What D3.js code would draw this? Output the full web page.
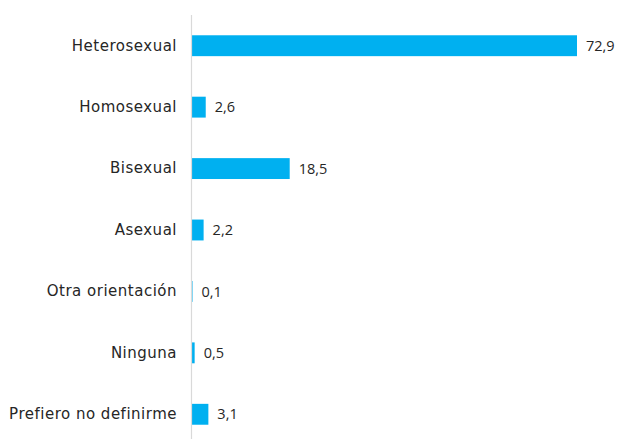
<!DOCTYPE html>
<html>
<head>
<meta charset="utf-8">
<script src="https://cdn.jsdelivr.net/npm/d3@7"></script>
<style>
  body { margin: 0; background: #fff; }
</style>
</head>
<body>
<svg id="chart" width="618" height="439"></svg>
<script>
// categories and values
var categories = ["Heterosexual", "Homosexual", "Bisexual", "Asexual",
    "Otra orientación", "Ninguna", "Prefiero no definirme"];
var values = [72.9, 2.6, 18.5, 2.2, 0.1, 0.5, 3.1];

var svg = d3.select("#chart");
var margin = {top: 15, right: 41, bottom: -6, left: 192};
var width = 618 - margin.left - margin.right;
var height = 439 - margin.top - margin.bottom;

var g = svg.append("g")
    .attr("transform", "translate(" + margin.left + "," + margin.top + ")");

var y = d3.scaleBand()
    .domain(categories)
    .range([0, height])
    .paddingInner(0.66)
    .paddingOuter(0.33);

var x = d3.scaleLinear()
    .domain([0, 72.9])
    .range([0, 385]);

var data = categories.map(function (c, i) {
    return {name: c, value: values[i]};
});

g.selectAll("rect.bar")
    .data(data)
    .enter()
    .append("rect")
    .attr("class", "bar")
    .attr("x", 0)
    .attr("y", function (d) { return y(d.name); })
    .attr("width", function (d) { return x(d.value); })
    .attr("height", y.bandwidth())
    .attr("fill", "#00b0f0");

// vertical axis line + category labels
var axis = g.append("g")
    .call(d3.axisLeft(y).tickSize(0).tickPadding(15));
axis.select(".domain")
    .attr("d", "M-0.5,0V" + (height + 10))
    .attr("stroke", "#d9d9d9")
    .attr("stroke-width", 1.2);
axis.selectAll(".tick text")
    .attr("font-family", "'Century Gothic', 'DejaVu Sans', sans-serif")
    .attr("font-size", "15px")
    .attr("letter-spacing", "0.5px")
    .attr("fill", "#262626");

g.selectAll("text.val")
    .data(data)
    .enter()
    .append("text")
    .attr("class", "val")
    .attr("x", function (d) { return x(d.value) + 9; })
    .attr("y", function (d) { return y(d.name) + y.bandwidth() / 2; })
    .attr("dy", "0.35em")
    .attr("font-family", "'Open Sans', sans-serif")
    .attr("font-size", "14.5px")
    .attr("fill", "#262626")
    .text(function (d) { return String(d.value.toFixed(1)).replace(".", ","); });
</script>
</body>
</html>
